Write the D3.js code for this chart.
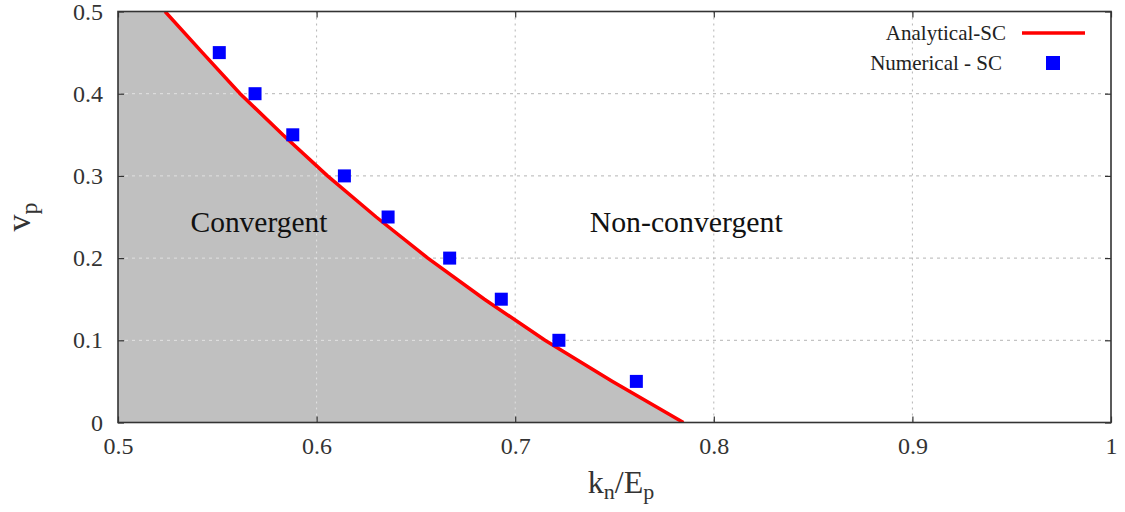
<!DOCTYPE html>
<html>
<head>
<meta charset="utf-8">
<script src="https://cdn.jsdelivr.net/npm/d3@7"></script>
<style>
  html, body { margin: 0; padding: 0; background: #fff; }
  svg { display: block; }
  text { font-family: "Liberation Serif", "Times New Roman", serif; }
</style>
</head>
<body>
<svg id="chart" width="1125" height="512"></svg>
<script>
// Stability limit: Poisson ratio of the particle vs. normal stiffness ratio
const vpLevels    = [0.5, 0.45, 0.4, 0.35, 0.3, 0.25, 0.2, 0.15, 0.1, 0.05, 0];
const analyticalK = [0.5237, 0.5425, 0.5615, 0.583, 0.6055, 0.630, 0.656, 0.6845, 0.715, 0.749, 0.7847];

const numericalVp = [0.45, 0.4, 0.35, 0.3, 0.25, 0.2, 0.15, 0.1, 0.05];
const numericalK  = [0.551, 0.569, 0.588, 0.614, 0.636, 0.667, 0.693, 0.722, 0.761];

const xTicks = [0.5, 0.6, 0.7, 0.8, 0.9, 1];
const yTicks = [0, 0.1, 0.2, 0.3, 0.4, 0.5];

const legendLabels = ["Analytical-SC", "Numerical - SC"];
const regionLabels = [
  { text: "Convergent",     k: 0.5365, vp: 0.232 },
  { text: "Non-convergent", k: 0.7375, vp: 0.232 }
];

const svg = d3.select("#chart");
const plotL = 118, plotR = 1111, plotT = 11.5, plotB = 422.5;

const x = d3.scaleLinear().domain([0.5, 1]).range([plotL, plotR]);
const y = d3.scaleLinear().domain([0, 0.5]).range([plotB, plotT]);

const curve = vpLevels.map((v, i) => ({ k: analyticalK[i], v }));
const points = numericalVp.map((v, i) => ({ k: numericalK[i], v }));

// convergent region: between the left edge and the analytical limit
const regionPts = [{ k: 0.5, v: 0.5 }, ...curve, { k: 0.5, v: 0 }];
const regionPath = d3.line().x(d => x(d.k)).y(d => y(d.v))(regionPts) + "Z";

const defs = svg.append("defs");
defs.append("clipPath").attr("id", "plotClip")
  .append("rect").attr("x", plotL).attr("y", plotT)
  .attr("width", plotR - plotL).attr("height", plotB - plotT);
defs.append("clipPath").attr("id", "regionClip")
  .append("path").attr("d", regionPath);

svg.append("path").attr("d", regionPath).attr("fill", "#c0c0c0");

// grid lines: grey over white, pale over the shaded region
function drawGrid(g, color) {
  g.selectAll("line.gx").data(xTicks.filter(t => t > 0.5 && t < 1)).join("line")
    .attr("class", "gx")
    .attr("x1", d => x(d)).attr("x2", d => x(d))
    .attr("y1", plotT).attr("y2", plotB)
    .attr("stroke", color).attr("stroke-width", 1).attr("stroke-dasharray", "2,4");
  g.selectAll("line.gy").data(yTicks.filter(t => t > 0 && t < 0.5)).join("line")
    .attr("class", "gy")
    .attr("x1", plotL).attr("x2", plotR)
    .attr("y1", d => y(d)).attr("y2", d => y(d))
    .attr("stroke", color).attr("stroke-width", 1).attr("stroke-dasharray", "3,4");
}
drawGrid(svg.append("g"), "#b4b4b4");
drawGrid(svg.append("g").attr("clip-path", "url(#regionClip)"), "#e6e6e6");

// analytical limit curve
svg.append("path")
  .datum(curve)
  .attr("clip-path", "url(#plotClip)")
  .attr("fill", "none")
  .attr("stroke", "#ff0000")
  .attr("stroke-width", 3.5)
  .attr("d", d3.line().x(d => x(d.k)).y(d => y(d.v)));

// numerical results
const sq = 13;
svg.append("g").selectAll("rect").data(points).join("rect")
  .attr("x", d => x(d.k) - sq / 2).attr("y", d => y(d.v) - sq / 2)
  .attr("width", sq).attr("height", sq)
  .attr("fill", "#0000ff");

// axes with inward ticks on all four sides
const tickLen = 6;
const axisColor = "#333";
const xb = svg.append("g").attr("transform", `translate(0,${plotB})`)
  .call(d3.axisBottom(x).tickValues(xTicks).tickSizeInner(-tickLen).tickSizeOuter(0).tickPadding(14)
    .tickFormat(d => d3.format("")(d)));
const xt = svg.append("g").attr("transform", `translate(0,${plotT})`)
  .call(d3.axisTop(x).tickValues(xTicks).tickSizeInner(-tickLen).tickSizeOuter(0).tickFormat(""));
const yl = svg.append("g").attr("transform", `translate(${plotL},0)`)
  .call(d3.axisLeft(y).tickValues(yTicks).tickSizeInner(-tickLen).tickSizeOuter(0).tickPadding(15)
    .tickFormat(d => d3.format("")(d)));
const yr = svg.append("g").attr("transform", `translate(${plotR},0)`)
  .call(d3.axisRight(y).tickValues(yTicks).tickSizeInner(-tickLen).tickSizeOuter(0).tickFormat(""));

[xb, xt, yl, yr].forEach(g => {
  g.select(".domain").remove();
  g.selectAll(".tick line").attr("stroke", axisColor).attr("stroke-width", 1.2);
  g.selectAll("text").attr("font-family", "Liberation Serif, serif")
    .attr("font-size", 24).attr("fill", "#333");
});

svg.append("rect")
  .attr("x", plotL).attr("y", plotT).attr("width", plotR - plotL).attr("height", plotB - plotT)
  .attr("fill", "none").attr("stroke", axisColor).attr("stroke-width", 1.6);

// region labels
svg.append("g").selectAll("text").data(regionLabels).join("text")
  .attr("x", d => x(d.k)).attr("y", d => y(d.vp))
  .attr("font-size", 29.5).attr("fill", "#111")
  .attr("textLength", (d, i) => i === 0 ? 137 : 193)
  .attr("lengthAdjust", "spacingAndGlyphs")
  .text(d => d.text);

// axis titles
const xTitle = svg.append("text")
  .attr("x", 621).attr("y", 493)
  .attr("text-anchor", "middle").attr("font-size", 32).attr("fill", "#333");
xTitle.append("tspan").text("k");
xTitle.append("tspan").attr("font-size", 22).attr("dy", 6).text("n");
xTitle.append("tspan").attr("dy", -6).text("/E");
xTitle.append("tspan").attr("font-size", 22).attr("dy", 6).text("p");

const yTitle = svg.append("text")
  .attr("transform", "translate(30,217) rotate(-90)")
  .attr("text-anchor", "middle").attr("font-size", 34).attr("fill", "#333");
yTitle.append("tspan").text("v");
yTitle.append("tspan").attr("font-size", 24).attr("dy", 7).text("p");

// legend
const legend = svg.append("g");
legend.append("text").attr("x", 1006).attr("y", 40)
  .attr("text-anchor", "end").attr("font-size", 21).attr("fill", "#222")
  .text(legendLabels[0]);
legend.append("line").attr("x1", 1022).attr("x2", 1085).attr("y1", 33).attr("y2", 33)
  .attr("stroke", "#ff0000").attr("stroke-width", 3.5);
legend.append("text").attr("x", 1002).attr("y", 70)
  .attr("text-anchor", "end").attr("font-size", 21).attr("fill", "#222")
  .text(legendLabels[1]);
legend.append("rect").attr("x", 1053 - 7).attr("y", 63 - 7).attr("width", 14).attr("height", 14)
  .attr("fill", "#0000ff");
</script>
</body>
</html>
